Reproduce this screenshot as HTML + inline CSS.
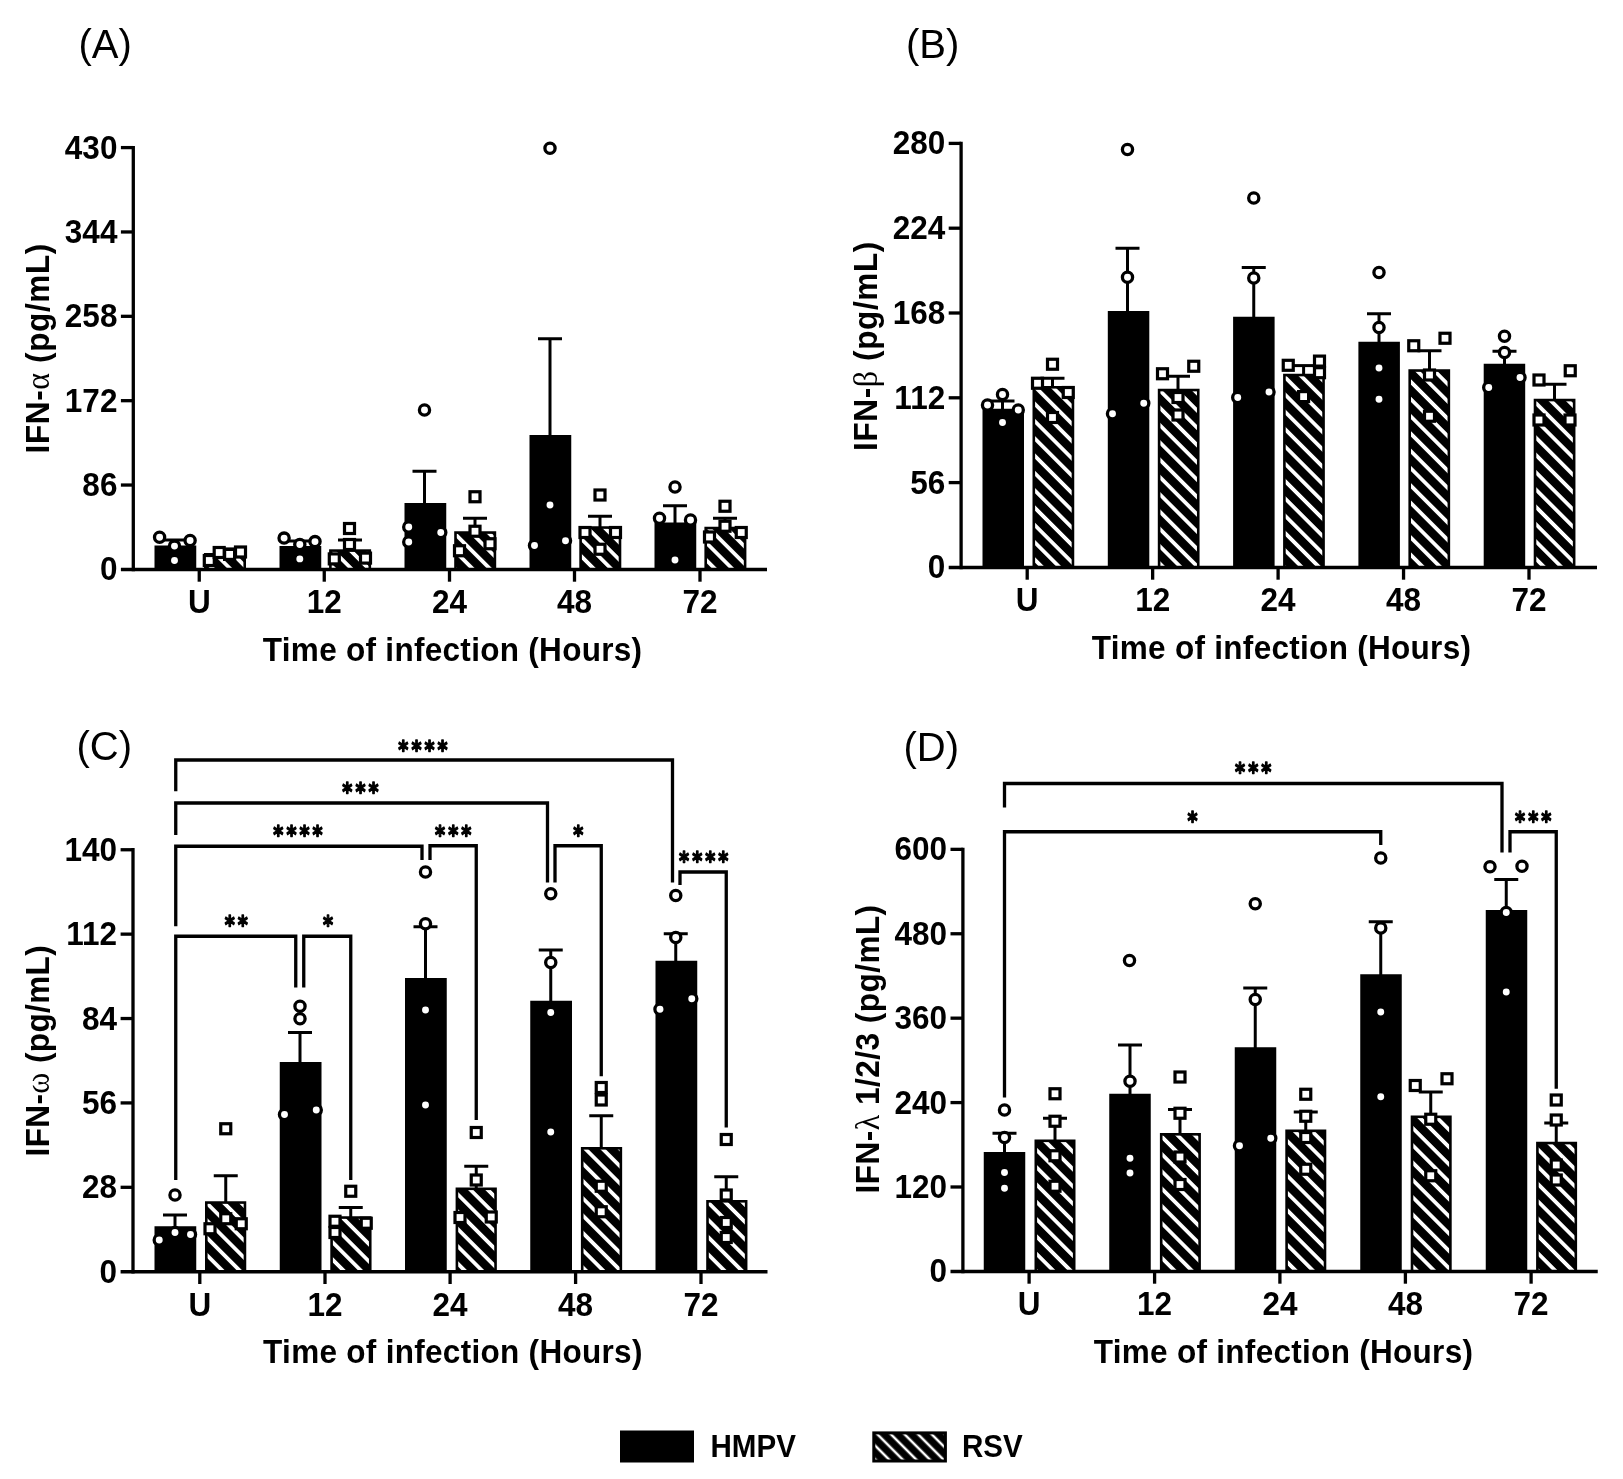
<!DOCTYPE html>
<html><head><meta charset="utf-8"><title>Figure</title>
<style>html,body{margin:0;padding:0;background:#fff}svg{display:block;filter:blur(0.6px)}</style></head>
<body>
<svg width="1623" height="1479" viewBox="0 0 1623 1479" font-family='"Liberation Sans", Arial, sans-serif' fill="#000">
<defs><pattern id="hatch" patternUnits="userSpaceOnUse" width="12.24" height="12.24" patternTransform="translate(1286.2,430.3) rotate(45)"><rect x="0" y="0" width="12.24" height="12.24" fill="#000"/><rect x="0" y="-1.9" width="12.24" height="3.8" fill="#fff"/><rect x="0" y="10.34" width="12.24" height="3.8" fill="#fff"/></pattern><pattern id="hatch2" patternUnits="userSpaceOnUse" width="9.6" height="9.6" patternTransform="translate(890.8,1447.7) rotate(45)"><rect x="0" y="0" width="9.6" height="9.6" fill="#000"/><rect x="0" y="-1.25" width="9.6" height="2.5" fill="#fff"/><rect x="0" y="8.35" width="9.6" height="2.5" fill="#fff"/></pattern></defs>
<rect width="1623" height="1479" fill="#fff"/>
<rect x="154.50" y="545.50" width="41.75" height="23.90" fill="#000"/>
<rect x="205.30" y="554.30" width="39.40" height="15.10" fill="url(#hatch)" stroke="#000" stroke-width="2.6"/>
<rect x="279.50" y="546.00" width="41.75" height="23.40" fill="#000"/>
<rect x="330.40" y="550.60" width="39.40" height="18.80" fill="url(#hatch)" stroke="#000" stroke-width="2.6"/>
<rect x="404.50" y="503.00" width="41.75" height="66.40" fill="#000"/>
<rect x="455.50" y="532.55" width="39.40" height="36.85" fill="url(#hatch)" stroke="#000" stroke-width="2.6"/>
<rect x="529.50" y="435.00" width="41.75" height="134.40" fill="#000"/>
<rect x="580.60" y="527.55" width="39.40" height="41.85" fill="url(#hatch)" stroke="#000" stroke-width="2.6"/>
<rect x="654.50" y="522.50" width="41.75" height="46.90" fill="#000"/>
<rect x="705.70" y="528.05" width="39.40" height="41.35" fill="url(#hatch)" stroke="#000" stroke-width="2.6"/>
<line x1="175.00" y1="546.00" x2="175.00" y2="540.00" stroke="#000" stroke-width="3" stroke-linecap="butt"/>
<line x1="163.00" y1="540.00" x2="187.00" y2="540.00" stroke="#000" stroke-width="3" stroke-linecap="butt"/>
<line x1="225.00" y1="553.00" x2="225.00" y2="549.00" stroke="#000" stroke-width="3" stroke-linecap="butt"/>
<line x1="213.00" y1="549.00" x2="237.00" y2="549.00" stroke="#000" stroke-width="3" stroke-linecap="butt"/>
<line x1="300.00" y1="546.00" x2="300.00" y2="541.00" stroke="#000" stroke-width="3" stroke-linecap="butt"/>
<line x1="288.00" y1="541.00" x2="312.00" y2="541.00" stroke="#000" stroke-width="3" stroke-linecap="butt"/>
<line x1="350.00" y1="550.00" x2="350.00" y2="540.00" stroke="#000" stroke-width="3" stroke-linecap="butt"/>
<line x1="338.00" y1="540.00" x2="362.00" y2="540.00" stroke="#000" stroke-width="3" stroke-linecap="butt"/>
<line x1="424.50" y1="503.00" x2="424.50" y2="471.25" stroke="#000" stroke-width="3" stroke-linecap="butt"/>
<line x1="412.50" y1="471.25" x2="436.50" y2="471.25" stroke="#000" stroke-width="3" stroke-linecap="butt"/>
<line x1="475.00" y1="532.00" x2="475.00" y2="518.25" stroke="#000" stroke-width="3" stroke-linecap="butt"/>
<line x1="463.00" y1="518.25" x2="487.00" y2="518.25" stroke="#000" stroke-width="3" stroke-linecap="butt"/>
<line x1="550.00" y1="435.00" x2="550.00" y2="338.75" stroke="#000" stroke-width="3" stroke-linecap="butt"/>
<line x1="538.00" y1="338.75" x2="562.00" y2="338.75" stroke="#000" stroke-width="3" stroke-linecap="butt"/>
<line x1="600.00" y1="527.00" x2="600.00" y2="516.25" stroke="#000" stroke-width="3" stroke-linecap="butt"/>
<line x1="588.00" y1="516.25" x2="612.00" y2="516.25" stroke="#000" stroke-width="3" stroke-linecap="butt"/>
<line x1="675.00" y1="523.00" x2="675.00" y2="505.75" stroke="#000" stroke-width="3" stroke-linecap="butt"/>
<line x1="663.00" y1="505.75" x2="687.00" y2="505.75" stroke="#000" stroke-width="3" stroke-linecap="butt"/>
<line x1="725.00" y1="527.00" x2="725.00" y2="518.25" stroke="#000" stroke-width="3" stroke-linecap="butt"/>
<line x1="713.00" y1="518.25" x2="737.00" y2="518.25" stroke="#000" stroke-width="3" stroke-linecap="butt"/>
<line x1="133.30" y1="145.95" x2="133.30" y2="571.15" stroke="#000" stroke-width="3.3" stroke-linecap="butt"/>
<line x1="120.90" y1="569.40" x2="767.00" y2="569.40" stroke="#000" stroke-width="3.5" stroke-linecap="butt"/>
<text transform="translate(117.40,580.40) scale(0.97,1)" font-size="32.5" text-anchor="end" font-weight="bold" >0</text>
<line x1="120.90" y1="485.04" x2="133.30" y2="485.04" stroke="#000" stroke-width="3.3" stroke-linecap="butt"/>
<text transform="translate(117.40,496.04) scale(0.97,1)" font-size="32.5" text-anchor="end" font-weight="bold" >86</text>
<line x1="120.90" y1="400.68" x2="133.30" y2="400.68" stroke="#000" stroke-width="3.3" stroke-linecap="butt"/>
<text transform="translate(117.40,411.68) scale(0.97,1)" font-size="32.5" text-anchor="end" font-weight="bold" >172</text>
<line x1="120.90" y1="316.32" x2="133.30" y2="316.32" stroke="#000" stroke-width="3.3" stroke-linecap="butt"/>
<text transform="translate(117.40,327.32) scale(0.97,1)" font-size="32.5" text-anchor="end" font-weight="bold" >258</text>
<line x1="120.90" y1="231.96" x2="133.30" y2="231.96" stroke="#000" stroke-width="3.3" stroke-linecap="butt"/>
<text transform="translate(117.40,242.96) scale(0.97,1)" font-size="32.5" text-anchor="end" font-weight="bold" >344</text>
<line x1="120.90" y1="147.60" x2="133.30" y2="147.60" stroke="#000" stroke-width="3.3" stroke-linecap="butt"/>
<text transform="translate(117.40,158.60) scale(0.97,1)" font-size="32.5" text-anchor="end" font-weight="bold" >430</text>
<line x1="199.25" y1="569.40" x2="199.25" y2="581.70" stroke="#000" stroke-width="3.3" stroke-linecap="butt"/>
<text transform="translate(199.25,613.40) scale(0.97,1)" font-size="32.5" text-anchor="middle" font-weight="bold" >U</text>
<line x1="324.25" y1="569.40" x2="324.25" y2="581.70" stroke="#000" stroke-width="3.3" stroke-linecap="butt"/>
<text transform="translate(324.25,613.40) scale(0.97,1)" font-size="32.5" text-anchor="middle" font-weight="bold" >12</text>
<line x1="449.50" y1="569.40" x2="449.50" y2="581.70" stroke="#000" stroke-width="3.3" stroke-linecap="butt"/>
<text transform="translate(449.50,613.40) scale(0.97,1)" font-size="32.5" text-anchor="middle" font-weight="bold" >24</text>
<line x1="574.50" y1="569.40" x2="574.50" y2="581.70" stroke="#000" stroke-width="3.3" stroke-linecap="butt"/>
<text transform="translate(574.50,613.40) scale(0.97,1)" font-size="32.5" text-anchor="middle" font-weight="bold" >48</text>
<line x1="700.00" y1="569.40" x2="700.00" y2="581.70" stroke="#000" stroke-width="3.3" stroke-linecap="butt"/>
<text transform="translate(700.00,613.40) scale(0.97,1)" font-size="32.5" text-anchor="middle" font-weight="bold" >72</text>
<text transform="translate(452.60,661.00) scale(0.97,1)" font-size="32.5" text-anchor="middle" font-weight="bold" letter-spacing="0.3">Time of infection (Hours)</text>
<text transform="translate(49.00,453.50) rotate(-90) scale(0.97,1)" font-size="32.5" font-weight="bold" text-anchor="start" letter-spacing="0.65">IFN-<tspan font-family="'Liberation Serif', serif" font-weight="normal" font-size="33">α</tspan> (pg/mL)</text>
<text transform="translate(78.50,57.50) scale(1,1)" font-size="40" text-anchor="start" font-weight="normal" >(A)</text>
<circle cx="159.60" cy="537.30" r="5.1" fill="#fff" stroke="#000" stroke-width="3.3"/>
<circle cx="174.50" cy="546.10" r="5.1" fill="#fff" stroke="#000" stroke-width="3.3"/>
<circle cx="190.10" cy="540.50" r="5.1" fill="#fff" stroke="#000" stroke-width="3.3"/>
<circle cx="174.50" cy="560.50" r="5.1" fill="#fff" stroke="#000" stroke-width="3.3"/>
<circle cx="284.10" cy="538.10" r="5.1" fill="#fff" stroke="#000" stroke-width="3.3"/>
<circle cx="299.80" cy="544.50" r="5.1" fill="#fff" stroke="#000" stroke-width="3.3"/>
<circle cx="315.00" cy="541.60" r="5.1" fill="#fff" stroke="#000" stroke-width="3.3"/>
<circle cx="299.80" cy="558.90" r="5.1" fill="#fff" stroke="#000" stroke-width="3.3"/>
<circle cx="424.50" cy="410.00" r="5.1" fill="#fff" stroke="#000" stroke-width="3.3"/>
<circle cx="408.75" cy="527.00" r="5.1" fill="#fff" stroke="#000" stroke-width="3.3"/>
<circle cx="408.75" cy="542.00" r="5.1" fill="#fff" stroke="#000" stroke-width="3.3"/>
<circle cx="440.75" cy="532.50" r="5.1" fill="#fff" stroke="#000" stroke-width="3.3"/>
<circle cx="550.00" cy="148.25" r="5.1" fill="#fff" stroke="#000" stroke-width="3.3"/>
<circle cx="550.00" cy="505.00" r="5.1" fill="#fff" stroke="#000" stroke-width="3.3"/>
<circle cx="534.50" cy="545.50" r="5.1" fill="#fff" stroke="#000" stroke-width="3.3"/>
<circle cx="565.50" cy="540.75" r="5.1" fill="#fff" stroke="#000" stroke-width="3.3"/>
<circle cx="675.00" cy="487.00" r="5.1" fill="#fff" stroke="#000" stroke-width="3.3"/>
<circle cx="659.50" cy="518.25" r="5.1" fill="#fff" stroke="#000" stroke-width="3.3"/>
<circle cx="690.50" cy="520.00" r="5.1" fill="#fff" stroke="#000" stroke-width="3.3"/>
<circle cx="675.00" cy="560.00" r="5.1" fill="#fff" stroke="#000" stroke-width="3.3"/>
<rect x="204.30" y="555.50" width="10" height="10" fill="#fff" stroke="#000" stroke-width="3.2"/>
<rect x="214.20" y="547.50" width="10" height="10" fill="#fff" stroke="#000" stroke-width="3.2"/>
<rect x="224.60" y="549.40" width="10" height="10" fill="#fff" stroke="#000" stroke-width="3.2"/>
<rect x="235.50" y="547.00" width="10" height="10" fill="#fff" stroke="#000" stroke-width="3.2"/>
<rect x="344.50" y="523.50" width="10" height="10" fill="#fff" stroke="#000" stroke-width="3.2"/>
<rect x="344.50" y="539.50" width="10" height="10" fill="#fff" stroke="#000" stroke-width="3.2"/>
<rect x="329.30" y="553.90" width="10" height="10" fill="#fff" stroke="#000" stroke-width="3.2"/>
<rect x="360.50" y="553.10" width="10" height="10" fill="#fff" stroke="#000" stroke-width="3.2"/>
<rect x="470.00" y="491.75" width="10" height="10" fill="#fff" stroke="#000" stroke-width="3.2"/>
<rect x="470.00" y="526.25" width="10" height="10" fill="#fff" stroke="#000" stroke-width="3.2"/>
<rect x="485.00" y="538.75" width="10" height="10" fill="#fff" stroke="#000" stroke-width="3.2"/>
<rect x="454.50" y="545.75" width="10" height="10" fill="#fff" stroke="#000" stroke-width="3.2"/>
<rect x="595.00" y="490.00" width="10" height="10" fill="#fff" stroke="#000" stroke-width="3.2"/>
<rect x="580.00" y="527.50" width="10" height="10" fill="#fff" stroke="#000" stroke-width="3.2"/>
<rect x="610.50" y="527.50" width="10" height="10" fill="#fff" stroke="#000" stroke-width="3.2"/>
<rect x="595.00" y="544.25" width="10" height="10" fill="#fff" stroke="#000" stroke-width="3.2"/>
<rect x="720.00" y="501.25" width="10" height="10" fill="#fff" stroke="#000" stroke-width="3.2"/>
<rect x="720.00" y="521.25" width="10" height="10" fill="#fff" stroke="#000" stroke-width="3.2"/>
<rect x="704.50" y="532.00" width="10" height="10" fill="#fff" stroke="#000" stroke-width="3.2"/>
<rect x="736.25" y="527.50" width="10" height="10" fill="#fff" stroke="#000" stroke-width="3.2"/>
<rect x="982.50" y="408.75" width="41.5" height="158.65" fill="#000"/>
<rect x="1033.80" y="387.30" width="39.15" height="180.10" fill="url(#hatch)" stroke="#000" stroke-width="2.6"/>
<rect x="1107.80" y="311.00" width="41.5" height="256.40" fill="#000"/>
<rect x="1159.10" y="390.05" width="39.15" height="177.35" fill="url(#hatch)" stroke="#000" stroke-width="2.6"/>
<rect x="1233.10" y="316.75" width="41.5" height="250.65" fill="#000"/>
<rect x="1284.40" y="375.05" width="39.15" height="192.35" fill="url(#hatch)" stroke="#000" stroke-width="2.6"/>
<rect x="1358.40" y="341.75" width="41.5" height="225.65" fill="#000"/>
<rect x="1409.70" y="370.55" width="39.15" height="196.85" fill="url(#hatch)" stroke="#000" stroke-width="2.6"/>
<rect x="1483.70" y="363.75" width="41.5" height="203.65" fill="#000"/>
<rect x="1535.00" y="400.05" width="39.15" height="167.35" fill="url(#hatch)" stroke="#000" stroke-width="2.6"/>
<line x1="1002.50" y1="409.00" x2="1002.50" y2="401.00" stroke="#000" stroke-width="3" stroke-linecap="butt"/>
<line x1="990.50" y1="401.00" x2="1014.50" y2="401.00" stroke="#000" stroke-width="3" stroke-linecap="butt"/>
<line x1="1052.50" y1="387.00" x2="1052.50" y2="378.25" stroke="#000" stroke-width="3" stroke-linecap="butt"/>
<line x1="1040.50" y1="378.25" x2="1064.50" y2="378.25" stroke="#000" stroke-width="3" stroke-linecap="butt"/>
<line x1="1127.50" y1="311.00" x2="1127.50" y2="248.25" stroke="#000" stroke-width="3" stroke-linecap="butt"/>
<line x1="1115.50" y1="248.25" x2="1139.50" y2="248.25" stroke="#000" stroke-width="3" stroke-linecap="butt"/>
<line x1="1178.00" y1="389.00" x2="1178.00" y2="376.25" stroke="#000" stroke-width="3" stroke-linecap="butt"/>
<line x1="1166.00" y1="376.25" x2="1190.00" y2="376.25" stroke="#000" stroke-width="3" stroke-linecap="butt"/>
<line x1="1253.75" y1="317.00" x2="1253.75" y2="267.50" stroke="#000" stroke-width="3" stroke-linecap="butt"/>
<line x1="1241.75" y1="267.50" x2="1265.75" y2="267.50" stroke="#000" stroke-width="3" stroke-linecap="butt"/>
<line x1="1303.60" y1="374.00" x2="1303.60" y2="365.60" stroke="#000" stroke-width="3" stroke-linecap="butt"/>
<line x1="1291.60" y1="365.60" x2="1315.60" y2="365.60" stroke="#000" stroke-width="3" stroke-linecap="butt"/>
<line x1="1379.00" y1="342.00" x2="1379.00" y2="313.75" stroke="#000" stroke-width="3" stroke-linecap="butt"/>
<line x1="1367.00" y1="313.75" x2="1391.00" y2="313.75" stroke="#000" stroke-width="3" stroke-linecap="butt"/>
<line x1="1429.50" y1="370.00" x2="1429.50" y2="350.75" stroke="#000" stroke-width="3" stroke-linecap="butt"/>
<line x1="1417.50" y1="350.75" x2="1441.50" y2="350.75" stroke="#000" stroke-width="3" stroke-linecap="butt"/>
<line x1="1504.50" y1="364.00" x2="1504.50" y2="351.25" stroke="#000" stroke-width="3" stroke-linecap="butt"/>
<line x1="1492.50" y1="351.25" x2="1516.50" y2="351.25" stroke="#000" stroke-width="3" stroke-linecap="butt"/>
<line x1="1554.50" y1="399.00" x2="1554.50" y2="384.25" stroke="#000" stroke-width="3" stroke-linecap="butt"/>
<line x1="1542.50" y1="384.25" x2="1566.50" y2="384.25" stroke="#000" stroke-width="3" stroke-linecap="butt"/>
<line x1="961.10" y1="141.75" x2="961.10" y2="569.15" stroke="#000" stroke-width="3.3" stroke-linecap="butt"/>
<line x1="948.70" y1="567.40" x2="1597.00" y2="567.40" stroke="#000" stroke-width="3.5" stroke-linecap="butt"/>
<text transform="translate(945.20,578.40) scale(0.97,1)" font-size="32.5" text-anchor="end" font-weight="bold" >0</text>
<line x1="948.70" y1="482.60" x2="961.10" y2="482.60" stroke="#000" stroke-width="3.3" stroke-linecap="butt"/>
<text transform="translate(945.20,493.60) scale(0.97,1)" font-size="32.5" text-anchor="end" font-weight="bold" >56</text>
<line x1="948.70" y1="397.80" x2="961.10" y2="397.80" stroke="#000" stroke-width="3.3" stroke-linecap="butt"/>
<text transform="translate(945.20,408.80) scale(0.97,1)" font-size="32.5" text-anchor="end" font-weight="bold" >112</text>
<line x1="948.70" y1="313.00" x2="961.10" y2="313.00" stroke="#000" stroke-width="3.3" stroke-linecap="butt"/>
<text transform="translate(945.20,324.00) scale(0.97,1)" font-size="32.5" text-anchor="end" font-weight="bold" >168</text>
<line x1="948.70" y1="228.20" x2="961.10" y2="228.20" stroke="#000" stroke-width="3.3" stroke-linecap="butt"/>
<text transform="translate(945.20,239.20) scale(0.97,1)" font-size="32.5" text-anchor="end" font-weight="bold" >224</text>
<line x1="948.70" y1="143.40" x2="961.10" y2="143.40" stroke="#000" stroke-width="3.3" stroke-linecap="butt"/>
<text transform="translate(945.20,154.40) scale(0.97,1)" font-size="32.5" text-anchor="end" font-weight="bold" >280</text>
<line x1="1027.20" y1="567.40" x2="1027.20" y2="579.70" stroke="#000" stroke-width="3.3" stroke-linecap="butt"/>
<text transform="translate(1027.20,611.40) scale(0.97,1)" font-size="32.5" text-anchor="middle" font-weight="bold" >U</text>
<line x1="1152.65" y1="567.40" x2="1152.65" y2="579.70" stroke="#000" stroke-width="3.3" stroke-linecap="butt"/>
<text transform="translate(1152.65,611.40) scale(0.97,1)" font-size="32.5" text-anchor="middle" font-weight="bold" >12</text>
<line x1="1278.10" y1="567.40" x2="1278.10" y2="579.70" stroke="#000" stroke-width="3.3" stroke-linecap="butt"/>
<text transform="translate(1278.10,611.40) scale(0.97,1)" font-size="32.5" text-anchor="middle" font-weight="bold" >24</text>
<line x1="1403.55" y1="567.40" x2="1403.55" y2="579.70" stroke="#000" stroke-width="3.3" stroke-linecap="butt"/>
<text transform="translate(1403.55,611.40) scale(0.97,1)" font-size="32.5" text-anchor="middle" font-weight="bold" >48</text>
<line x1="1529.00" y1="567.40" x2="1529.00" y2="579.70" stroke="#000" stroke-width="3.3" stroke-linecap="butt"/>
<text transform="translate(1529.00,611.40) scale(0.97,1)" font-size="32.5" text-anchor="middle" font-weight="bold" >72</text>
<text transform="translate(1281.50,659.00) scale(0.97,1)" font-size="32.5" text-anchor="middle" font-weight="bold" letter-spacing="0.3">Time of infection (Hours)</text>
<text transform="translate(877.00,451.00) rotate(-90) scale(0.97,1)" font-size="32.5" font-weight="bold" text-anchor="start" letter-spacing="0.65">IFN-<tspan font-family="'Liberation Serif', serif" font-weight="normal" font-size="33">β</tspan> (pg/mL)</text>
<text transform="translate(906.00,57.50) scale(1,1)" font-size="40" text-anchor="start" font-weight="normal" >(B)</text>
<circle cx="987.50" cy="405.00" r="5.1" fill="#fff" stroke="#000" stroke-width="3.3"/>
<circle cx="1002.50" cy="394.50" r="5.1" fill="#fff" stroke="#000" stroke-width="3.3"/>
<circle cx="1018.25" cy="410.00" r="5.1" fill="#fff" stroke="#000" stroke-width="3.3"/>
<circle cx="1002.50" cy="422.50" r="5.1" fill="#fff" stroke="#000" stroke-width="3.3"/>
<circle cx="1127.50" cy="149.50" r="5.1" fill="#fff" stroke="#000" stroke-width="3.3"/>
<circle cx="1127.50" cy="277.25" r="5.1" fill="#fff" stroke="#000" stroke-width="3.3"/>
<circle cx="1112.50" cy="413.75" r="5.1" fill="#fff" stroke="#000" stroke-width="3.3"/>
<circle cx="1143.75" cy="403.25" r="5.1" fill="#fff" stroke="#000" stroke-width="3.3"/>
<circle cx="1253.75" cy="198.00" r="5.1" fill="#fff" stroke="#000" stroke-width="3.3"/>
<circle cx="1253.75" cy="278.00" r="5.1" fill="#fff" stroke="#000" stroke-width="3.3"/>
<circle cx="1237.75" cy="397.50" r="5.1" fill="#fff" stroke="#000" stroke-width="3.3"/>
<circle cx="1269.00" cy="392.00" r="5.1" fill="#fff" stroke="#000" stroke-width="3.3"/>
<circle cx="1379.00" cy="272.50" r="5.1" fill="#fff" stroke="#000" stroke-width="3.3"/>
<circle cx="1379.00" cy="327.50" r="5.1" fill="#fff" stroke="#000" stroke-width="3.3"/>
<circle cx="1379.00" cy="368.00" r="5.1" fill="#fff" stroke="#000" stroke-width="3.3"/>
<circle cx="1379.00" cy="399.25" r="5.1" fill="#fff" stroke="#000" stroke-width="3.3"/>
<circle cx="1504.50" cy="336.25" r="5.1" fill="#fff" stroke="#000" stroke-width="3.3"/>
<circle cx="1504.50" cy="352.50" r="5.1" fill="#fff" stroke="#000" stroke-width="3.3"/>
<circle cx="1520.00" cy="377.50" r="5.1" fill="#fff" stroke="#000" stroke-width="3.3"/>
<circle cx="1488.75" cy="387.50" r="5.1" fill="#fff" stroke="#000" stroke-width="3.3"/>
<rect x="1047.50" y="359.25" width="10" height="10" fill="#fff" stroke="#000" stroke-width="3.2"/>
<rect x="1032.50" y="378.25" width="10" height="10" fill="#fff" stroke="#000" stroke-width="3.2"/>
<rect x="1063.25" y="387.50" width="10" height="10" fill="#fff" stroke="#000" stroke-width="3.2"/>
<rect x="1047.50" y="412.50" width="10" height="10" fill="#fff" stroke="#000" stroke-width="3.2"/>
<rect x="1157.50" y="368.75" width="10" height="10" fill="#fff" stroke="#000" stroke-width="3.2"/>
<rect x="1188.75" y="361.25" width="10" height="10" fill="#fff" stroke="#000" stroke-width="3.2"/>
<rect x="1173.00" y="392.50" width="10" height="10" fill="#fff" stroke="#000" stroke-width="3.2"/>
<rect x="1173.00" y="410.00" width="10" height="10" fill="#fff" stroke="#000" stroke-width="3.2"/>
<rect x="1283.25" y="360.30" width="10" height="10" fill="#fff" stroke="#000" stroke-width="3.2"/>
<rect x="1314.50" y="356.10" width="10" height="10" fill="#fff" stroke="#000" stroke-width="3.2"/>
<rect x="1314.50" y="367.70" width="10" height="10" fill="#fff" stroke="#000" stroke-width="3.2"/>
<rect x="1298.60" y="391.60" width="10" height="10" fill="#fff" stroke="#000" stroke-width="3.2"/>
<rect x="1408.75" y="340.75" width="10" height="10" fill="#fff" stroke="#000" stroke-width="3.2"/>
<rect x="1440.00" y="333.25" width="10" height="10" fill="#fff" stroke="#000" stroke-width="3.2"/>
<rect x="1424.50" y="370.00" width="10" height="10" fill="#fff" stroke="#000" stroke-width="3.2"/>
<rect x="1424.50" y="411.25" width="10" height="10" fill="#fff" stroke="#000" stroke-width="3.2"/>
<rect x="1565.25" y="365.75" width="10" height="10" fill="#fff" stroke="#000" stroke-width="3.2"/>
<rect x="1534.00" y="375.00" width="10" height="10" fill="#fff" stroke="#000" stroke-width="3.2"/>
<rect x="1534.00" y="415.00" width="10" height="10" fill="#fff" stroke="#000" stroke-width="3.2"/>
<rect x="1565.00" y="415.00" width="10" height="10" fill="#fff" stroke="#000" stroke-width="3.2"/>
<rect x="154.50" y="1226.25" width="41.75" height="45.45" fill="#000"/>
<rect x="206.30" y="1202.55" width="38.65" height="69.15" fill="url(#hatch)" stroke="#000" stroke-width="2.6"/>
<rect x="279.75" y="1062.00" width="41.75" height="209.70" fill="#000"/>
<rect x="331.60" y="1217.55" width="38.65" height="54.15" fill="url(#hatch)" stroke="#000" stroke-width="2.6"/>
<rect x="405.00" y="978.00" width="41.75" height="293.70" fill="#000"/>
<rect x="456.90" y="1188.80" width="38.65" height="82.90" fill="url(#hatch)" stroke="#000" stroke-width="2.6"/>
<rect x="530.25" y="1000.75" width="41.75" height="270.95" fill="#000"/>
<rect x="582.20" y="1148.30" width="38.65" height="123.40" fill="url(#hatch)" stroke="#000" stroke-width="2.6"/>
<rect x="655.50" y="960.75" width="41.75" height="310.95" fill="#000"/>
<rect x="707.50" y="1201.30" width="38.65" height="70.40" fill="url(#hatch)" stroke="#000" stroke-width="2.6"/>
<line x1="175.00" y1="1227.00" x2="175.00" y2="1215.00" stroke="#000" stroke-width="3" stroke-linecap="butt"/>
<line x1="163.00" y1="1215.00" x2="187.00" y2="1215.00" stroke="#000" stroke-width="3" stroke-linecap="butt"/>
<line x1="225.75" y1="1202.00" x2="225.75" y2="1175.75" stroke="#000" stroke-width="3" stroke-linecap="butt"/>
<line x1="213.75" y1="1175.75" x2="237.75" y2="1175.75" stroke="#000" stroke-width="3" stroke-linecap="butt"/>
<line x1="300.00" y1="1062.00" x2="300.00" y2="1032.50" stroke="#000" stroke-width="3" stroke-linecap="butt"/>
<line x1="288.00" y1="1032.50" x2="312.00" y2="1032.50" stroke="#000" stroke-width="3" stroke-linecap="butt"/>
<line x1="350.75" y1="1217.00" x2="350.75" y2="1207.50" stroke="#000" stroke-width="3" stroke-linecap="butt"/>
<line x1="338.75" y1="1207.50" x2="362.75" y2="1207.50" stroke="#000" stroke-width="3" stroke-linecap="butt"/>
<line x1="425.50" y1="978.00" x2="425.50" y2="926.75" stroke="#000" stroke-width="3" stroke-linecap="butt"/>
<line x1="413.50" y1="926.75" x2="437.50" y2="926.75" stroke="#000" stroke-width="3" stroke-linecap="butt"/>
<line x1="476.25" y1="1188.00" x2="476.25" y2="1166.25" stroke="#000" stroke-width="3" stroke-linecap="butt"/>
<line x1="464.25" y1="1166.25" x2="488.25" y2="1166.25" stroke="#000" stroke-width="3" stroke-linecap="butt"/>
<line x1="550.75" y1="1001.00" x2="550.75" y2="950.00" stroke="#000" stroke-width="3" stroke-linecap="butt"/>
<line x1="538.75" y1="950.00" x2="562.75" y2="950.00" stroke="#000" stroke-width="3" stroke-linecap="butt"/>
<line x1="601.25" y1="1148.00" x2="601.25" y2="1115.75" stroke="#000" stroke-width="3" stroke-linecap="butt"/>
<line x1="589.25" y1="1115.75" x2="613.25" y2="1115.75" stroke="#000" stroke-width="3" stroke-linecap="butt"/>
<line x1="675.75" y1="961.00" x2="675.75" y2="933.75" stroke="#000" stroke-width="3" stroke-linecap="butt"/>
<line x1="663.75" y1="933.75" x2="687.75" y2="933.75" stroke="#000" stroke-width="3" stroke-linecap="butt"/>
<line x1="726.25" y1="1201.00" x2="726.25" y2="1176.75" stroke="#000" stroke-width="3" stroke-linecap="butt"/>
<line x1="714.25" y1="1176.75" x2="738.25" y2="1176.75" stroke="#000" stroke-width="3" stroke-linecap="butt"/>
<line x1="133.00" y1="848.10" x2="133.00" y2="1273.45" stroke="#000" stroke-width="3.3" stroke-linecap="butt"/>
<line x1="120.60" y1="1271.70" x2="767.50" y2="1271.70" stroke="#000" stroke-width="3.5" stroke-linecap="butt"/>
<text transform="translate(117.10,1282.70) scale(0.97,1)" font-size="32.5" text-anchor="end" font-weight="bold" >0</text>
<line x1="120.60" y1="1187.31" x2="133.00" y2="1187.31" stroke="#000" stroke-width="3.3" stroke-linecap="butt"/>
<text transform="translate(117.10,1198.31) scale(0.97,1)" font-size="32.5" text-anchor="end" font-weight="bold" >28</text>
<line x1="120.60" y1="1102.92" x2="133.00" y2="1102.92" stroke="#000" stroke-width="3.3" stroke-linecap="butt"/>
<text transform="translate(117.10,1113.92) scale(0.97,1)" font-size="32.5" text-anchor="end" font-weight="bold" >56</text>
<line x1="120.60" y1="1018.53" x2="133.00" y2="1018.53" stroke="#000" stroke-width="3.3" stroke-linecap="butt"/>
<text transform="translate(117.10,1029.53) scale(0.97,1)" font-size="32.5" text-anchor="end" font-weight="bold" >84</text>
<line x1="120.60" y1="934.14" x2="133.00" y2="934.14" stroke="#000" stroke-width="3.3" stroke-linecap="butt"/>
<text transform="translate(117.10,945.14) scale(0.97,1)" font-size="32.5" text-anchor="end" font-weight="bold" >112</text>
<line x1="120.60" y1="849.75" x2="133.00" y2="849.75" stroke="#000" stroke-width="3.3" stroke-linecap="butt"/>
<text transform="translate(117.10,860.75) scale(0.97,1)" font-size="32.5" text-anchor="end" font-weight="bold" >140</text>
<line x1="199.80" y1="1271.70" x2="199.80" y2="1284.00" stroke="#000" stroke-width="3.3" stroke-linecap="butt"/>
<text transform="translate(199.80,1315.70) scale(0.97,1)" font-size="32.5" text-anchor="middle" font-weight="bold" >U</text>
<line x1="325.00" y1="1271.70" x2="325.00" y2="1284.00" stroke="#000" stroke-width="3.3" stroke-linecap="butt"/>
<text transform="translate(325.00,1315.70) scale(0.97,1)" font-size="32.5" text-anchor="middle" font-weight="bold" >12</text>
<line x1="450.10" y1="1271.70" x2="450.10" y2="1284.00" stroke="#000" stroke-width="3.3" stroke-linecap="butt"/>
<text transform="translate(450.10,1315.70) scale(0.97,1)" font-size="32.5" text-anchor="middle" font-weight="bold" >24</text>
<line x1="575.60" y1="1271.70" x2="575.60" y2="1284.00" stroke="#000" stroke-width="3.3" stroke-linecap="butt"/>
<text transform="translate(575.60,1315.70) scale(0.97,1)" font-size="32.5" text-anchor="middle" font-weight="bold" >48</text>
<line x1="701.00" y1="1271.70" x2="701.00" y2="1284.00" stroke="#000" stroke-width="3.3" stroke-linecap="butt"/>
<text transform="translate(701.00,1315.70) scale(0.97,1)" font-size="32.5" text-anchor="middle" font-weight="bold" >72</text>
<text transform="translate(452.90,1363.30) scale(0.97,1)" font-size="32.5" text-anchor="middle" font-weight="bold" letter-spacing="0.3">Time of infection (Hours)</text>
<text transform="translate(49.00,1156.50) rotate(-90) scale(0.97,1)" font-size="32.5" font-weight="bold" text-anchor="start" letter-spacing="0.4">IFN-<tspan font-family="'Liberation Serif', serif" font-weight="normal" font-size="33">ω</tspan> (pg/mL)</text>
<text transform="translate(76.50,760.00) scale(1,1)" font-size="40" text-anchor="start" font-weight="normal" >(C)</text>
<circle cx="175.00" cy="1195.00" r="5.1" fill="#fff" stroke="#000" stroke-width="3.3"/>
<circle cx="159.25" cy="1240.00" r="5.1" fill="#fff" stroke="#000" stroke-width="3.3"/>
<circle cx="175.00" cy="1232.50" r="5.1" fill="#fff" stroke="#000" stroke-width="3.3"/>
<circle cx="190.50" cy="1234.50" r="5.1" fill="#fff" stroke="#000" stroke-width="3.3"/>
<circle cx="300.00" cy="1006.25" r="5.1" fill="#fff" stroke="#000" stroke-width="3.3"/>
<circle cx="300.00" cy="1018.75" r="5.1" fill="#fff" stroke="#000" stroke-width="3.3"/>
<circle cx="284.50" cy="1114.50" r="5.1" fill="#fff" stroke="#000" stroke-width="3.3"/>
<circle cx="316.25" cy="1110.00" r="5.1" fill="#fff" stroke="#000" stroke-width="3.3"/>
<circle cx="425.50" cy="872.00" r="5.1" fill="#fff" stroke="#000" stroke-width="3.3"/>
<circle cx="425.50" cy="923.75" r="5.1" fill="#fff" stroke="#000" stroke-width="3.3"/>
<circle cx="425.50" cy="1010.00" r="5.1" fill="#fff" stroke="#000" stroke-width="3.3"/>
<circle cx="425.50" cy="1105.00" r="5.1" fill="#fff" stroke="#000" stroke-width="3.3"/>
<circle cx="550.75" cy="893.75" r="5.1" fill="#fff" stroke="#000" stroke-width="3.3"/>
<circle cx="550.75" cy="962.50" r="5.1" fill="#fff" stroke="#000" stroke-width="3.3"/>
<circle cx="550.75" cy="1012.50" r="5.1" fill="#fff" stroke="#000" stroke-width="3.3"/>
<circle cx="550.75" cy="1132.00" r="5.1" fill="#fff" stroke="#000" stroke-width="3.3"/>
<circle cx="675.75" cy="895.50" r="5.1" fill="#fff" stroke="#000" stroke-width="3.3"/>
<circle cx="675.75" cy="937.50" r="5.1" fill="#fff" stroke="#000" stroke-width="3.3"/>
<circle cx="691.75" cy="998.75" r="5.1" fill="#fff" stroke="#000" stroke-width="3.3"/>
<circle cx="660.00" cy="1009.25" r="5.1" fill="#fff" stroke="#000" stroke-width="3.3"/>
<rect x="220.75" y="1123.75" width="10" height="10" fill="#fff" stroke="#000" stroke-width="3.2"/>
<rect x="220.75" y="1213.75" width="10" height="10" fill="#fff" stroke="#000" stroke-width="3.2"/>
<rect x="205.00" y="1223.75" width="10" height="10" fill="#fff" stroke="#000" stroke-width="3.2"/>
<rect x="236.25" y="1218.75" width="10" height="10" fill="#fff" stroke="#000" stroke-width="3.2"/>
<rect x="345.75" y="1186.25" width="10" height="10" fill="#fff" stroke="#000" stroke-width="3.2"/>
<rect x="330.00" y="1216.25" width="10" height="10" fill="#fff" stroke="#000" stroke-width="3.2"/>
<rect x="361.25" y="1218.25" width="10" height="10" fill="#fff" stroke="#000" stroke-width="3.2"/>
<rect x="330.00" y="1227.50" width="10" height="10" fill="#fff" stroke="#000" stroke-width="3.2"/>
<rect x="471.25" y="1127.50" width="10" height="10" fill="#fff" stroke="#000" stroke-width="3.2"/>
<rect x="471.25" y="1175.00" width="10" height="10" fill="#fff" stroke="#000" stroke-width="3.2"/>
<rect x="455.00" y="1212.50" width="10" height="10" fill="#fff" stroke="#000" stroke-width="3.2"/>
<rect x="486.25" y="1212.00" width="10" height="10" fill="#fff" stroke="#000" stroke-width="3.2"/>
<rect x="596.25" y="1082.50" width="10" height="10" fill="#fff" stroke="#000" stroke-width="3.2"/>
<rect x="596.25" y="1095.00" width="10" height="10" fill="#fff" stroke="#000" stroke-width="3.2"/>
<rect x="596.25" y="1181.25" width="10" height="10" fill="#fff" stroke="#000" stroke-width="3.2"/>
<rect x="596.25" y="1206.75" width="10" height="10" fill="#fff" stroke="#000" stroke-width="3.2"/>
<rect x="721.25" y="1134.50" width="10" height="10" fill="#fff" stroke="#000" stroke-width="3.2"/>
<rect x="721.25" y="1190.00" width="10" height="10" fill="#fff" stroke="#000" stroke-width="3.2"/>
<rect x="721.25" y="1217.50" width="10" height="10" fill="#fff" stroke="#000" stroke-width="3.2"/>
<rect x="721.25" y="1232.50" width="10" height="10" fill="#fff" stroke="#000" stroke-width="3.2"/>
<polyline points="175.75,791.25 175.75,760.00 672.50,760.00 672.50,882.50" fill="none" stroke="#000" stroke-width="3.3" stroke-linejoin="miter"/>
<text transform="translate(424.50,757.65) scale(0.8,1)" text-anchor="middle" font-family="'DejaVu Sans', sans-serif" font-weight="bold" font-size="24" letter-spacing="3.85" stroke="#000" stroke-width="1.4" stroke-linejoin="round">****</text>
<polyline points="175.75,835.00 175.75,803.00 547.50,803.00 547.50,882.50" fill="none" stroke="#000" stroke-width="3.3" stroke-linejoin="miter"/>
<text transform="translate(362.00,800.15) scale(0.8,1)" text-anchor="middle" font-family="'DejaVu Sans', sans-serif" font-weight="bold" font-size="24" letter-spacing="3.85" stroke="#000" stroke-width="1.4" stroke-linejoin="round">***</text>
<polyline points="175.75,926.25 175.75,846.25 422.00,846.25 422.00,860.00" fill="none" stroke="#000" stroke-width="3.3" stroke-linejoin="miter"/>
<text transform="translate(299.50,843.15) scale(0.8,1)" text-anchor="middle" font-family="'DejaVu Sans', sans-serif" font-weight="bold" font-size="24" letter-spacing="3.85" stroke="#000" stroke-width="1.4" stroke-linejoin="round">****</text>
<polyline points="175.75,1180.00 175.75,936.25 295.75,936.25 295.75,987.50" fill="none" stroke="#000" stroke-width="3.3" stroke-linejoin="miter"/>
<text transform="translate(237.75,933.40) scale(0.8,1)" text-anchor="middle" font-family="'DejaVu Sans', sans-serif" font-weight="bold" font-size="24" letter-spacing="3.85" stroke="#000" stroke-width="1.4" stroke-linejoin="round">**</text>
<polyline points="303.75,987.50 303.75,936.25 350.75,936.25 350.75,1180.00" fill="none" stroke="#000" stroke-width="3.3" stroke-linejoin="miter"/>
<text transform="translate(329.50,933.40) scale(0.8,1)" text-anchor="middle" font-family="'DejaVu Sans', sans-serif" font-weight="bold" font-size="24" letter-spacing="3.85" stroke="#000" stroke-width="1.4" stroke-linejoin="round">*</text>
<polyline points="430.00,860.00 430.00,845.75 476.25,845.75 476.25,1120.00" fill="none" stroke="#000" stroke-width="3.3" stroke-linejoin="miter"/>
<text transform="translate(454.75,842.65) scale(0.8,1)" text-anchor="middle" font-family="'DejaVu Sans', sans-serif" font-weight="bold" font-size="24" letter-spacing="3.85" stroke="#000" stroke-width="1.4" stroke-linejoin="round">***</text>
<polyline points="555.00,882.50 555.00,845.75 601.25,845.75 601.25,1076.25" fill="none" stroke="#000" stroke-width="3.3" stroke-linejoin="miter"/>
<text transform="translate(579.75,842.65) scale(0.8,1)" text-anchor="middle" font-family="'DejaVu Sans', sans-serif" font-weight="bold" font-size="24" letter-spacing="3.85" stroke="#000" stroke-width="1.4" stroke-linejoin="round">*</text>
<polyline points="680.00,885.00 680.00,872.00 726.25,872.00 726.25,1127.50" fill="none" stroke="#000" stroke-width="3.3" stroke-linejoin="miter"/>
<text transform="translate(705.25,868.90) scale(0.8,1)" text-anchor="middle" font-family="'DejaVu Sans', sans-serif" font-weight="bold" font-size="24" letter-spacing="3.85" stroke="#000" stroke-width="1.4" stroke-linejoin="round">****</text>
<rect x="983.75" y="1152.00" width="41.5" height="119.40" fill="#000"/>
<rect x="1035.80" y="1140.80" width="38.40" height="130.60" fill="url(#hatch)" stroke="#000" stroke-width="2.6"/>
<rect x="1109.25" y="1093.75" width="41.5" height="177.65" fill="#000"/>
<rect x="1161.20" y="1134.30" width="38.40" height="137.10" fill="url(#hatch)" stroke="#000" stroke-width="2.6"/>
<rect x="1234.75" y="1047.25" width="41.5" height="224.15" fill="#000"/>
<rect x="1286.60" y="1130.80" width="38.40" height="140.60" fill="url(#hatch)" stroke="#000" stroke-width="2.6"/>
<rect x="1360.25" y="974.25" width="41.5" height="297.15" fill="#000"/>
<rect x="1412.00" y="1116.80" width="38.40" height="154.60" fill="url(#hatch)" stroke="#000" stroke-width="2.6"/>
<rect x="1485.75" y="910.00" width="41.5" height="361.40" fill="#000"/>
<rect x="1537.40" y="1143.05" width="38.40" height="128.35" fill="url(#hatch)" stroke="#000" stroke-width="2.6"/>
<line x1="1004.50" y1="1152.00" x2="1004.50" y2="1133.25" stroke="#000" stroke-width="3" stroke-linecap="butt"/>
<line x1="992.50" y1="1133.25" x2="1016.50" y2="1133.25" stroke="#000" stroke-width="3" stroke-linecap="butt"/>
<line x1="1055.00" y1="1140.00" x2="1055.00" y2="1118.25" stroke="#000" stroke-width="3" stroke-linecap="butt"/>
<line x1="1043.00" y1="1118.25" x2="1067.00" y2="1118.25" stroke="#000" stroke-width="3" stroke-linecap="butt"/>
<line x1="1130.00" y1="1094.00" x2="1130.00" y2="1045.00" stroke="#000" stroke-width="3" stroke-linecap="butt"/>
<line x1="1118.00" y1="1045.00" x2="1142.00" y2="1045.00" stroke="#000" stroke-width="3" stroke-linecap="butt"/>
<line x1="1180.00" y1="1134.00" x2="1180.00" y2="1109.50" stroke="#000" stroke-width="3" stroke-linecap="butt"/>
<line x1="1168.00" y1="1109.50" x2="1192.00" y2="1109.50" stroke="#000" stroke-width="3" stroke-linecap="butt"/>
<line x1="1255.25" y1="1048.00" x2="1255.25" y2="988.00" stroke="#000" stroke-width="3" stroke-linecap="butt"/>
<line x1="1243.25" y1="988.00" x2="1267.25" y2="988.00" stroke="#000" stroke-width="3" stroke-linecap="butt"/>
<line x1="1305.75" y1="1130.00" x2="1305.75" y2="1112.00" stroke="#000" stroke-width="3" stroke-linecap="butt"/>
<line x1="1293.75" y1="1112.00" x2="1317.75" y2="1112.00" stroke="#000" stroke-width="3" stroke-linecap="butt"/>
<line x1="1380.75" y1="975.00" x2="1380.75" y2="921.75" stroke="#000" stroke-width="3" stroke-linecap="butt"/>
<line x1="1368.75" y1="921.75" x2="1392.75" y2="921.75" stroke="#000" stroke-width="3" stroke-linecap="butt"/>
<line x1="1430.75" y1="1116.00" x2="1430.75" y2="1092.00" stroke="#000" stroke-width="3" stroke-linecap="butt"/>
<line x1="1418.75" y1="1092.00" x2="1442.75" y2="1092.00" stroke="#000" stroke-width="3" stroke-linecap="butt"/>
<line x1="1506.25" y1="910.00" x2="1506.25" y2="879.50" stroke="#000" stroke-width="3" stroke-linecap="butt"/>
<line x1="1494.25" y1="879.50" x2="1518.25" y2="879.50" stroke="#000" stroke-width="3" stroke-linecap="butt"/>
<line x1="1556.25" y1="1142.00" x2="1556.25" y2="1123.00" stroke="#000" stroke-width="3" stroke-linecap="butt"/>
<line x1="1544.25" y1="1123.00" x2="1568.25" y2="1123.00" stroke="#000" stroke-width="3" stroke-linecap="butt"/>
<line x1="962.90" y1="847.70" x2="962.90" y2="1273.15" stroke="#000" stroke-width="3.3" stroke-linecap="butt"/>
<line x1="950.50" y1="1271.40" x2="1597.75" y2="1271.40" stroke="#000" stroke-width="3.5" stroke-linecap="butt"/>
<text transform="translate(947.00,1282.40) scale(0.97,1)" font-size="32.5" text-anchor="end" font-weight="bold" >0</text>
<line x1="950.50" y1="1186.99" x2="962.90" y2="1186.99" stroke="#000" stroke-width="3.3" stroke-linecap="butt"/>
<text transform="translate(947.00,1197.99) scale(0.97,1)" font-size="32.5" text-anchor="end" font-weight="bold" >120</text>
<line x1="950.50" y1="1102.58" x2="962.90" y2="1102.58" stroke="#000" stroke-width="3.3" stroke-linecap="butt"/>
<text transform="translate(947.00,1113.58) scale(0.97,1)" font-size="32.5" text-anchor="end" font-weight="bold" >240</text>
<line x1="950.50" y1="1018.17" x2="962.90" y2="1018.17" stroke="#000" stroke-width="3.3" stroke-linecap="butt"/>
<text transform="translate(947.00,1029.17) scale(0.97,1)" font-size="32.5" text-anchor="end" font-weight="bold" >360</text>
<line x1="950.50" y1="933.76" x2="962.90" y2="933.76" stroke="#000" stroke-width="3.3" stroke-linecap="butt"/>
<text transform="translate(947.00,944.76) scale(0.97,1)" font-size="32.5" text-anchor="end" font-weight="bold" >480</text>
<line x1="950.50" y1="849.35" x2="962.90" y2="849.35" stroke="#000" stroke-width="3.3" stroke-linecap="butt"/>
<text transform="translate(947.00,860.35) scale(0.97,1)" font-size="32.5" text-anchor="end" font-weight="bold" >600</text>
<line x1="1029.10" y1="1271.40" x2="1029.10" y2="1283.70" stroke="#000" stroke-width="3.3" stroke-linecap="butt"/>
<text transform="translate(1029.10,1315.40) scale(0.97,1)" font-size="32.5" text-anchor="middle" font-weight="bold" >U</text>
<line x1="1154.60" y1="1271.40" x2="1154.60" y2="1283.70" stroke="#000" stroke-width="3.3" stroke-linecap="butt"/>
<text transform="translate(1154.60,1315.40) scale(0.97,1)" font-size="32.5" text-anchor="middle" font-weight="bold" >12</text>
<line x1="1279.90" y1="1271.40" x2="1279.90" y2="1283.70" stroke="#000" stroke-width="3.3" stroke-linecap="butt"/>
<text transform="translate(1279.90,1315.40) scale(0.97,1)" font-size="32.5" text-anchor="middle" font-weight="bold" >24</text>
<line x1="1405.40" y1="1271.40" x2="1405.40" y2="1283.70" stroke="#000" stroke-width="3.3" stroke-linecap="butt"/>
<text transform="translate(1405.40,1315.40) scale(0.97,1)" font-size="32.5" text-anchor="middle" font-weight="bold" >48</text>
<line x1="1531.10" y1="1271.40" x2="1531.10" y2="1283.70" stroke="#000" stroke-width="3.3" stroke-linecap="butt"/>
<text transform="translate(1531.10,1315.40) scale(0.97,1)" font-size="32.5" text-anchor="middle" font-weight="bold" >72</text>
<text transform="translate(1283.50,1363.00) scale(0.97,1)" font-size="32.5" text-anchor="middle" font-weight="bold" letter-spacing="0.3">Time of infection (Hours)</text>
<text transform="translate(878.50,1193.50) rotate(-90) scale(0.97,1)" font-size="32.5" font-weight="bold" text-anchor="start" letter-spacing="0.5">IFN-<tspan font-family="'Liberation Serif', serif" font-weight="normal" font-size="33">λ</tspan> 1/2/3 (pg/mL)</text>
<text transform="translate(903.50,761.25) scale(1,1)" font-size="40" text-anchor="start" font-weight="normal" >(D)</text>
<circle cx="1004.50" cy="1110.00" r="5.1" fill="#fff" stroke="#000" stroke-width="3.3"/>
<circle cx="1004.50" cy="1137.50" r="5.1" fill="#fff" stroke="#000" stroke-width="3.3"/>
<circle cx="1004.50" cy="1172.50" r="5.1" fill="#fff" stroke="#000" stroke-width="3.3"/>
<circle cx="1004.50" cy="1188.25" r="5.1" fill="#fff" stroke="#000" stroke-width="3.3"/>
<circle cx="1129.50" cy="960.50" r="5.1" fill="#fff" stroke="#000" stroke-width="3.3"/>
<circle cx="1130.00" cy="1081.25" r="5.1" fill="#fff" stroke="#000" stroke-width="3.3"/>
<circle cx="1130.00" cy="1158.25" r="5.1" fill="#fff" stroke="#000" stroke-width="3.3"/>
<circle cx="1130.00" cy="1173.00" r="5.1" fill="#fff" stroke="#000" stroke-width="3.3"/>
<circle cx="1255.25" cy="903.75" r="5.1" fill="#fff" stroke="#000" stroke-width="3.3"/>
<circle cx="1255.25" cy="999.50" r="5.1" fill="#fff" stroke="#000" stroke-width="3.3"/>
<circle cx="1239.50" cy="1145.75" r="5.1" fill="#fff" stroke="#000" stroke-width="3.3"/>
<circle cx="1270.75" cy="1138.25" r="5.1" fill="#fff" stroke="#000" stroke-width="3.3"/>
<circle cx="1380.75" cy="858.00" r="5.1" fill="#fff" stroke="#000" stroke-width="3.3"/>
<circle cx="1380.75" cy="928.00" r="5.1" fill="#fff" stroke="#000" stroke-width="3.3"/>
<circle cx="1380.75" cy="1012.00" r="5.1" fill="#fff" stroke="#000" stroke-width="3.3"/>
<circle cx="1380.75" cy="1096.75" r="5.1" fill="#fff" stroke="#000" stroke-width="3.3"/>
<circle cx="1490.00" cy="866.75" r="5.1" fill="#fff" stroke="#000" stroke-width="3.3"/>
<circle cx="1522.00" cy="866.25" r="5.1" fill="#fff" stroke="#000" stroke-width="3.3"/>
<circle cx="1506.25" cy="912.50" r="5.1" fill="#fff" stroke="#000" stroke-width="3.3"/>
<circle cx="1506.25" cy="992.00" r="5.1" fill="#fff" stroke="#000" stroke-width="3.3"/>
<rect x="1050.00" y="1088.75" width="10" height="10" fill="#fff" stroke="#000" stroke-width="3.2"/>
<rect x="1050.00" y="1116.25" width="10" height="10" fill="#fff" stroke="#000" stroke-width="3.2"/>
<rect x="1050.00" y="1150.75" width="10" height="10" fill="#fff" stroke="#000" stroke-width="3.2"/>
<rect x="1050.00" y="1181.25" width="10" height="10" fill="#fff" stroke="#000" stroke-width="3.2"/>
<rect x="1175.00" y="1072.00" width="10" height="10" fill="#fff" stroke="#000" stroke-width="3.2"/>
<rect x="1175.00" y="1108.25" width="10" height="10" fill="#fff" stroke="#000" stroke-width="3.2"/>
<rect x="1175.00" y="1152.00" width="10" height="10" fill="#fff" stroke="#000" stroke-width="3.2"/>
<rect x="1175.00" y="1179.50" width="10" height="10" fill="#fff" stroke="#000" stroke-width="3.2"/>
<rect x="1300.75" y="1089.25" width="10" height="10" fill="#fff" stroke="#000" stroke-width="3.2"/>
<rect x="1300.75" y="1111.25" width="10" height="10" fill="#fff" stroke="#000" stroke-width="3.2"/>
<rect x="1300.75" y="1132.50" width="10" height="10" fill="#fff" stroke="#000" stroke-width="3.2"/>
<rect x="1300.75" y="1164.25" width="10" height="10" fill="#fff" stroke="#000" stroke-width="3.2"/>
<rect x="1410.25" y="1080.50" width="10" height="10" fill="#fff" stroke="#000" stroke-width="3.2"/>
<rect x="1442.00" y="1073.75" width="10" height="10" fill="#fff" stroke="#000" stroke-width="3.2"/>
<rect x="1425.75" y="1114.25" width="10" height="10" fill="#fff" stroke="#000" stroke-width="3.2"/>
<rect x="1425.75" y="1170.75" width="10" height="10" fill="#fff" stroke="#000" stroke-width="3.2"/>
<rect x="1551.25" y="1095.00" width="10" height="10" fill="#fff" stroke="#000" stroke-width="3.2"/>
<rect x="1551.25" y="1115.00" width="10" height="10" fill="#fff" stroke="#000" stroke-width="3.2"/>
<rect x="1551.25" y="1160.00" width="10" height="10" fill="#fff" stroke="#000" stroke-width="3.2"/>
<rect x="1551.25" y="1175.00" width="10" height="10" fill="#fff" stroke="#000" stroke-width="3.2"/>
<polyline points="1004.50,807.50 1004.50,783.50 1502.00,783.50 1502.00,852.50" fill="none" stroke="#000" stroke-width="3.3" stroke-linejoin="miter"/>
<text transform="translate(1254.75,780.15) scale(0.8,1)" text-anchor="middle" font-family="'DejaVu Sans', sans-serif" font-weight="bold" font-size="24" letter-spacing="3.85" stroke="#000" stroke-width="1.4" stroke-linejoin="round">***</text>
<polyline points="1004.50,1097.50 1004.50,831.75 1380.75,831.75 1380.75,845.00" fill="none" stroke="#000" stroke-width="3.3" stroke-linejoin="miter"/>
<text transform="translate(1194.00,828.90) scale(0.8,1)" text-anchor="middle" font-family="'DejaVu Sans', sans-serif" font-weight="bold" font-size="24" letter-spacing="3.85" stroke="#000" stroke-width="1.4" stroke-linejoin="round">*</text>
<polyline points="1510.00,852.50 1510.00,831.75 1556.25,831.75 1556.25,1088.75" fill="none" stroke="#000" stroke-width="3.3" stroke-linejoin="miter"/>
<text transform="translate(1534.75,828.90) scale(0.8,1)" text-anchor="middle" font-family="'DejaVu Sans', sans-serif" font-weight="bold" font-size="24" letter-spacing="3.85" stroke="#000" stroke-width="1.4" stroke-linejoin="round">***</text>
<rect x="620" y="1430.5" width="74" height="32" fill="#000"/>
<rect x="873.8" y="1432.9" width="71.6" height="28.1" fill="url(#hatch2)" stroke="#000" stroke-width="3"/>
<text transform="translate(710.50,1457.30) scale(0.97,1)" font-size="30.5" text-anchor="start" font-weight="bold" >HMPV</text>
<text transform="translate(962.00,1457.30) scale(0.97,1)" font-size="30.5" text-anchor="start" font-weight="bold" >RSV</text>
</svg>
</body></html>
